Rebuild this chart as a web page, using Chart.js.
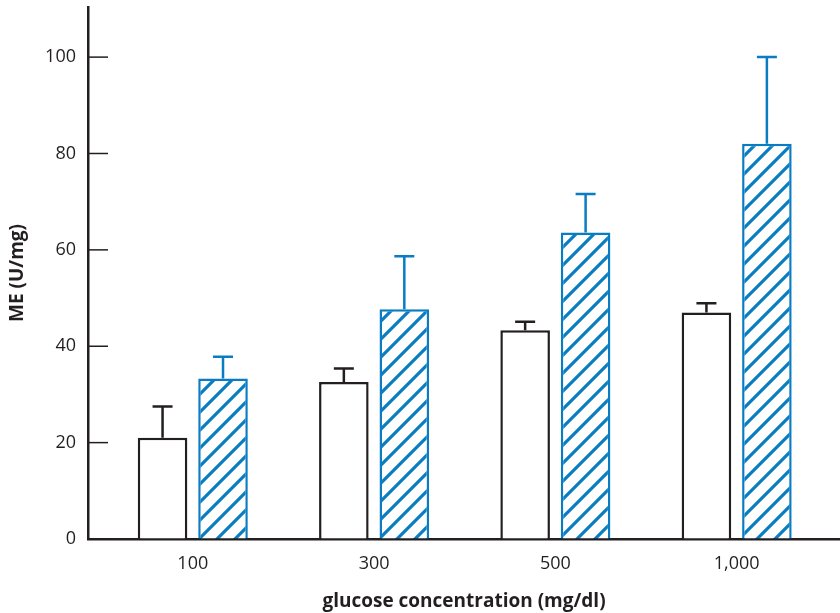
<!DOCTYPE html>
<html>
<head>
<meta charset="utf-8">
<script src="https://cdn.jsdelivr.net/npm/chart.js@4.4.1/dist/chart.umd.min.js"></script>
<style>
    html, body { margin: 0; padding: 0; background: #fff; overflow: hidden; }
    #wrap { width: 840px; height: 613px; }
</style>
</head>
<body>
<div id="wrap"><canvas id="chart" width="840" height="613"></canvas></div>
<script>
// Data
const glucoseLabels = ['100', '300', '500', '1,000'];
const controlMeans = [21.0, 32.6, 43.3, 47.0];
const controlErrors = [6.5, 2.8, 1.8, 1.9];
const treatedMeans = [33.3, 47.7, 63.6, 82.0];
const treatedErrors = [4.5, 11.0, 8.0, 18.0];
const yTickValues = [0, 20, 40, 60, 80, 100];

const INK = '#231f20';
const BLUE = '#0a7dc2';
const FONT = '"Open Sans", "Noto Sans", sans-serif';

/**
 * Build a diagonal hatch pattern (/ stripes)
 */
function makeHatch(color) {
    const size = 18;
    const c = document.createElement('canvas');
    c.width = size;
    c.height = size;
    const g = c.getContext('2d');
    g.fillStyle = '#fff';
    g.fillRect(0, 0, size, size);
    g.strokeStyle = color;
    g.lineWidth = 3.2;
    g.lineCap = 'square';
    g.beginPath();
    g.moveTo(0, size); g.lineTo(size, 0);
    g.moveTo(-2, 2); g.lineTo(2, -2);
    g.moveTo(size - 2, size + 2); g.lineTo(size + 2, size - 2);
    g.stroke();
    return g.createPattern(c, 'repeat');
}

const ctx = document.getElementById('chart').getContext('2d');

// x positions are the category index; the linear axis lets the first group sit off the y axis
const toPoints = arr => arr.map((v, i) => ({ x: i, y: v }));

// Draws inward y tick marks and the upward error bars
const extrasPlugin = {
    id: 'extras',
    afterDatasetsDraw(chart) {
        const g = chart.ctx;
        const yScale = chart.scales.y;
        const left = chart.chartArea.left;

        g.save();
        g.strokeStyle = INK;
        g.lineWidth = 1.5;
        yTickValues.forEach(v => {
            const py = yScale.getPixelForValue(v);
            g.beginPath();
            g.moveTo(left, py);
            g.lineTo(left + 20, py);
            g.stroke();
        });

        const errSets = [controlErrors, treatedErrors];
        chart.data.datasets.forEach((ds, d) => {
            const meta = chart.getDatasetMeta(d);
            g.strokeStyle = d === 0 ? INK : BLUE;
            g.lineWidth = 2.5;
            meta.data.forEach((bar, i) => {
                const top = ds.data[i].y + errSets[d][i];
                const pyTop = yScale.getPixelForValue(top);
                g.beginPath();
                g.moveTo(bar.x, bar.y);
                g.lineTo(bar.x, pyTop);
                g.moveTo(bar.x - 10, pyTop);
                g.lineTo(bar.x + 10, pyTop);
                g.stroke();
            });
        });
        g.restore();
    }
};

new Chart(ctx, {
    type: 'bar',
    data: {
        datasets: [
            {
                label: 'control',
                data: toPoints(controlMeans),
                backgroundColor: '#fff',
                borderColor: INK,
                borderWidth: 2.5,
                categoryPercentage: 0.667,
                barPercentage: 0.82
            },
            {
                label: 'treated',
                data: toPoints(treatedMeans),
                backgroundColor: makeHatch(BLUE),
                borderColor: BLUE,
                borderWidth: 2.5,
                categoryPercentage: 0.667,
                barPercentage: 0.82
            }
        ]
    },
    options: {
        responsive: false,
        animation: false,
        layout: { padding: { top: 7, right: 0, bottom: 0, left: 0 } },
        plugins: {
            legend: { display: false },
            tooltip: { enabled: false }
        },
        scales: {
            x: {
                type: 'linear',
                offset: false,
                min: -0.578,
                max: 3.57,
                afterBuildTicks: scale => {
                    scale.ticks = glucoseLabels.map((_, i) => ({ value: i }));
                },
                afterFit: scale => {
                    scale.height = 74;
                    scale.paddingLeft = 0;
                    scale.paddingRight = 0;
                },
                grid: { drawOnChartArea: false, drawTicks: false },
                border: { display: true, color: INK, width: 2.5 },
                ticks: {
                    autoSkip: false,
                    maxRotation: 0,
                    padding: 14,
                    color: INK,
                    font: { family: FONT, size: 18 },
                    callback: value => glucoseLabels[value] ?? ''
                },
                title: {
                    display: true,
                    text: 'glucose concentration (mg/dl)',
                    color: INK,
                    padding: { top: 1, bottom: 0 },
                    font: { family: FONT, size: 19, weight: 'bold' }
                }
            },
            y: {
                min: 0,
                max: 110.4,
                afterBuildTicks: scale => {
                    scale.ticks = yTickValues.map(v => ({ value: v }));
                },
                afterFit: scale => {
                    scale.width = 88;
                    scale.paddingTop = 0;
                    scale.paddingBottom = 0;
                },
                grid: { drawOnChartArea: false, drawTicks: false },
                border: { display: true, color: INK, width: 2.5 },
                ticks: {
                    padding: 12,
                    color: INK,
                    font: { family: FONT, size: 18 }
                },
                title: {
                    display: true,
                    text: 'ME (U/mg)',
                    color: INK,
                    padding: { top: 6, bottom: 0 },
                    font: { family: FONT, size: 19, weight: 'bold' }
                }
            }
        }
    },
    plugins: [extrasPlugin]
});
</script>
</body>
</html>
